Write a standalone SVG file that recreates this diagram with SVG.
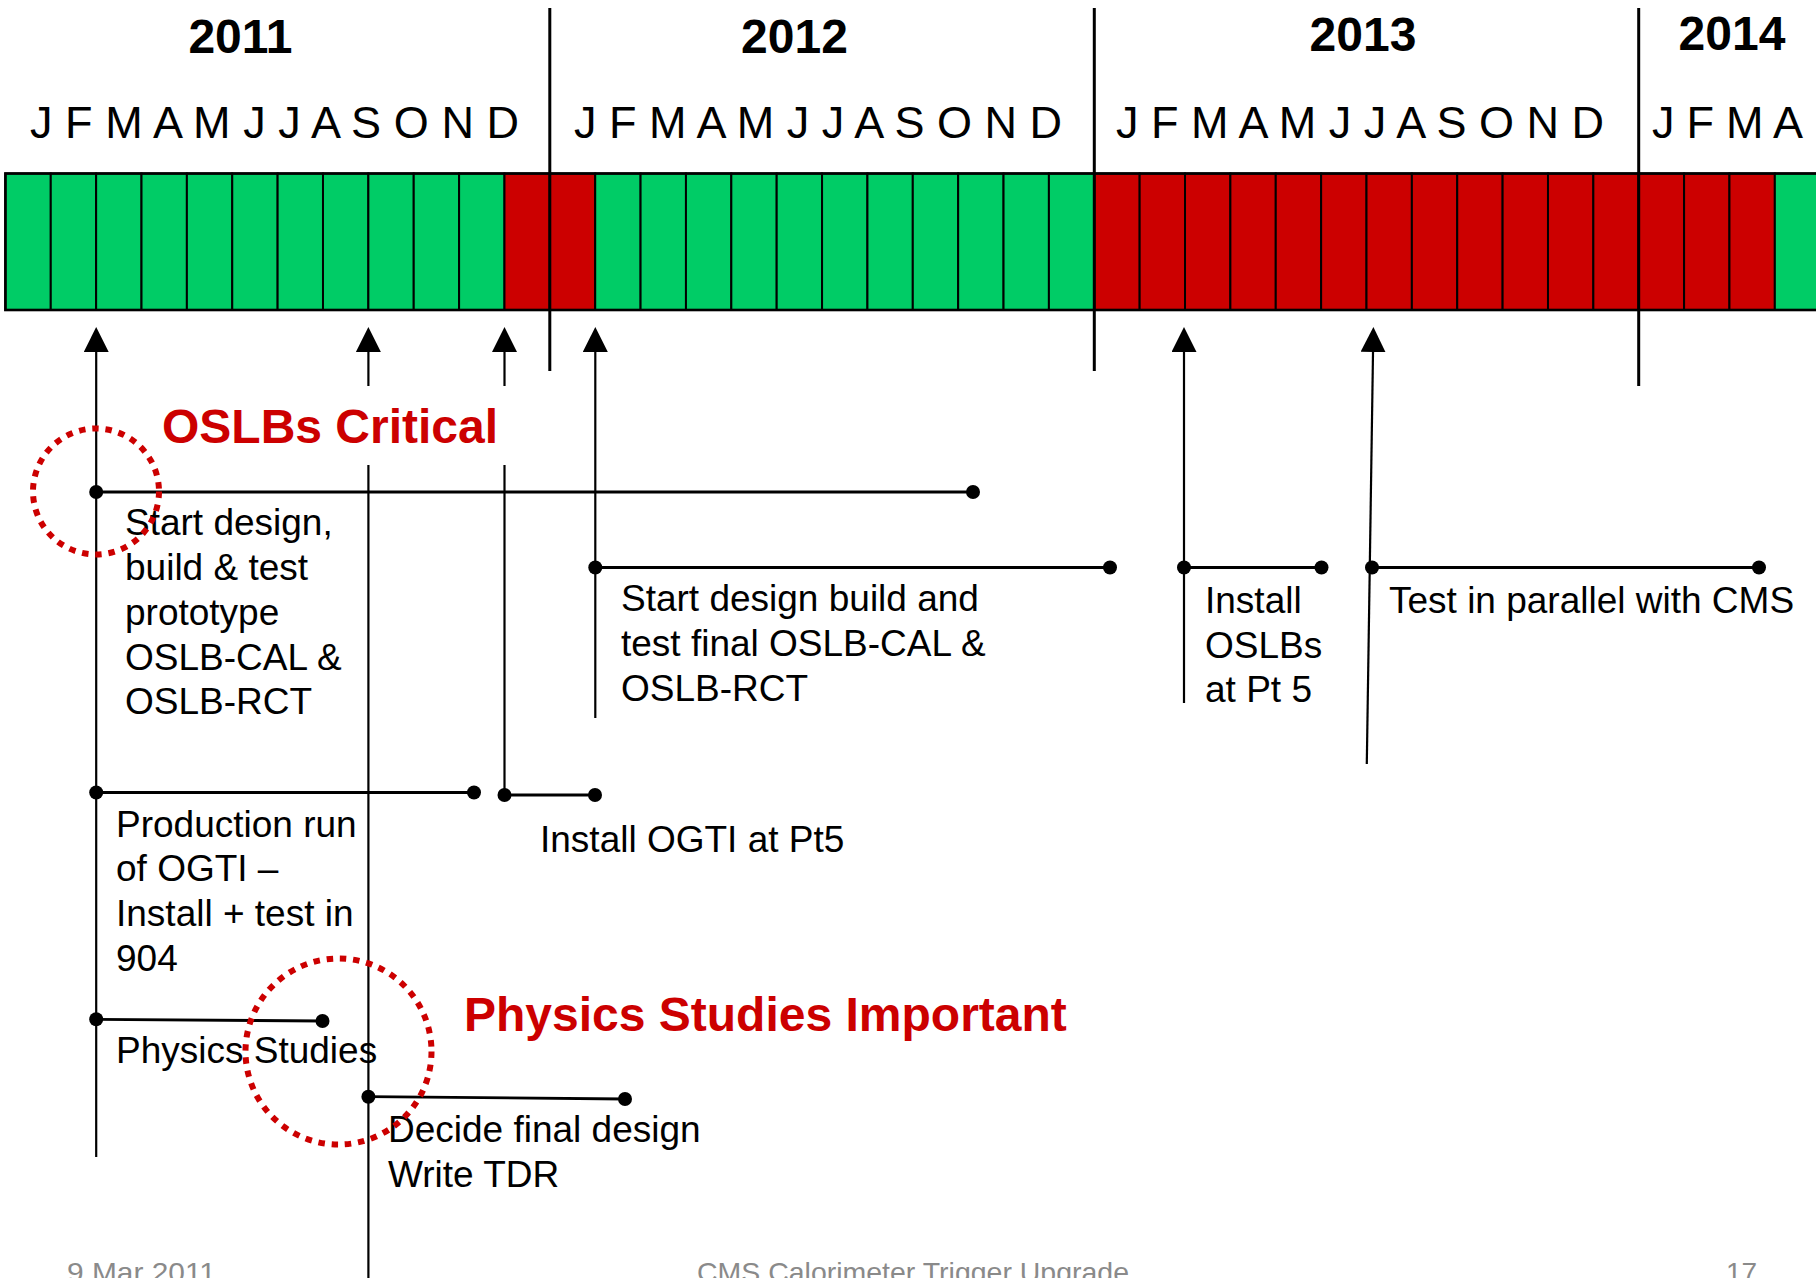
<svg xmlns="http://www.w3.org/2000/svg" width="1816" height="1278" viewBox="0 0 1816 1278">
  <style>
    .year { font-family: "Liberation Sans", Arial, sans-serif; font-weight: bold; font-size: 48px; fill: #000; text-anchor: middle; }
    .month { font-family: "Liberation Sans", Arial, sans-serif; font-size: 45px; fill: #000; }
    .lbl { font-family: "Liberation Sans", Arial, sans-serif; font-size: 37px; fill: #000; }
    .hot { font-family: "Liberation Sans", Arial, sans-serif; font-weight: bold; font-size: 48px; fill: #cc0000; }
    .foot { font-family: "Liberation Sans", Arial, sans-serif; font-size: 28px; fill: #8a8a8a; }
    .ok { fill: #00cc66; stroke: #000; stroke-width: 2; }
    .late { fill: #cc0000; stroke: #000; stroke-width: 2; }
    .sep { stroke: #000; stroke-width: 3; fill: none; }
    .vl { stroke: #000; stroke-width: 2.2; fill: none; }
    .hl { stroke: #000; stroke-width: 2.8; fill: none; }
    .dot { fill: #000; }
    .ring { fill: none; stroke: #cc0000; stroke-width: 6; stroke-dasharray: 6.5 6.8; }
  </style>
  <defs>
    <marker id="up" viewBox="0 0 25 25" refX="12" refY="12.5" markerWidth="25" markerHeight="25" markerUnits="userSpaceOnUse" orient="auto">
      <path d="M0,0 L25,12.5 L0,25 Z" fill="#000"/>
    </marker>
  </defs>
  <rect width="1816" height="1278" fill="#fff"/>

  <!-- year and month headings -->
  <g id="headings">
    <text class="year" x="240.5" y="53">2011</text>
    <text class="year" x="794.5" y="53">2012</text>
    <text class="year" x="1363" y="51">2013</text>
    <text class="year" x="1732" y="50">2014</text>
    <text class="month" x="30" y="138" textLength="489" lengthAdjust="spacing">J F M A M J J A S O N D</text>
    <text class="month" x="574" y="138" textLength="488" lengthAdjust="spacing">J F M A M J J A S O N D</text>
    <text class="month" x="1116" y="138" textLength="488" lengthAdjust="spacing">J F M A M J J A S O N D</text>
    <text class="month" x="1652" y="138" textLength="151" lengthAdjust="spacing">J F M A</text>
  </g>

  <!-- month cells: green = on track, red = critical period -->
  <g id="timeline">
    <rect class="ok" x="5.4" y="173.5" width="45.37" height="136.5"/>
    <rect class="ok" x="50.77" y="173.5" width="45.37" height="136.5"/>
    <rect class="ok" x="96.14" y="173.5" width="45.37" height="136.5"/>
    <rect class="ok" x="141.51" y="173.5" width="45.37" height="136.5"/>
    <rect class="ok" x="186.88" y="173.5" width="45.37" height="136.5"/>
    <rect class="ok" x="232.25" y="173.5" width="45.37" height="136.5"/>
    <rect class="ok" x="277.62" y="173.5" width="45.37" height="136.5"/>
    <rect class="ok" x="322.99" y="173.5" width="45.37" height="136.5"/>
    <rect class="ok" x="368.36" y="173.5" width="45.37" height="136.5"/>
    <rect class="ok" x="413.73" y="173.5" width="45.37" height="136.5"/>
    <rect class="ok" x="459.1" y="173.5" width="45.37" height="136.5"/>
    <rect class="late" x="504.47" y="173.5" width="45.37" height="136.5"/>
    <rect class="late" x="549.84" y="173.5" width="45.37" height="136.5"/>
    <rect class="ok" x="595.21" y="173.5" width="45.37" height="136.5"/>
    <rect class="ok" x="640.58" y="173.5" width="45.37" height="136.5"/>
    <rect class="ok" x="685.95" y="173.5" width="45.37" height="136.5"/>
    <rect class="ok" x="731.32" y="173.5" width="45.37" height="136.5"/>
    <rect class="ok" x="776.69" y="173.5" width="45.37" height="136.5"/>
    <rect class="ok" x="822.06" y="173.5" width="45.37" height="136.5"/>
    <rect class="ok" x="867.43" y="173.5" width="45.37" height="136.5"/>
    <rect class="ok" x="912.8" y="173.5" width="45.37" height="136.5"/>
    <rect class="ok" x="958.17" y="173.5" width="45.37" height="136.5"/>
    <rect class="ok" x="1003.54" y="173.5" width="45.37" height="136.5"/>
    <rect class="ok" x="1048.91" y="173.5" width="45.37" height="136.5"/>
    <rect class="late" x="1094.28" y="173.5" width="45.37" height="136.5"/>
    <rect class="late" x="1139.65" y="173.5" width="45.37" height="136.5"/>
    <rect class="late" x="1185.02" y="173.5" width="45.37" height="136.5"/>
    <rect class="late" x="1230.39" y="173.5" width="45.37" height="136.5"/>
    <rect class="late" x="1275.76" y="173.5" width="45.37" height="136.5"/>
    <rect class="late" x="1321.13" y="173.5" width="45.37" height="136.5"/>
    <rect class="late" x="1366.5" y="173.5" width="45.37" height="136.5"/>
    <rect class="late" x="1411.87" y="173.5" width="45.37" height="136.5"/>
    <rect class="late" x="1457.24" y="173.5" width="45.37" height="136.5"/>
    <rect class="late" x="1502.61" y="173.5" width="45.37" height="136.5"/>
    <rect class="late" x="1547.98" y="173.5" width="45.37" height="136.5"/>
    <rect class="late" x="1593.35" y="173.5" width="45.37" height="136.5"/>
    <rect class="late" x="1638.72" y="173.5" width="45.37" height="136.5"/>
    <rect class="late" x="1684.09" y="173.5" width="45.37" height="136.5"/>
    <rect class="late" x="1729.46" y="173.5" width="45.37" height="136.5"/>
    <rect class="ok" x="1774.83" y="173.5" width="60" height="136.5"/>
    <rect x="5.4" y="173.5" width="1830" height="136.5" fill="none" stroke="#000" stroke-width="2.6"/>
  </g>

  <!-- year separators -->
  <g id="year-lines">
    <line class="sep" x1="549.8" y1="8" x2="549.8" y2="371"/>
    <line class="sep" x1="1094.3" y1="8" x2="1094.3" y2="371"/>
    <line class="sep" x1="1638.7" y1="8" x2="1638.7" y2="386"/>
  </g>

  <!-- milestone arrows and drop lines -->
  <g id="connectors">
    <line class="vl" x1="96.2" y1="1157" x2="96.2" y2="340" marker-end="url(#up)"/>
    <line class="vl" x1="368.4" y1="386" x2="368.4" y2="340" marker-end="url(#up)"/>
    <line class="vl" x1="368.4" y1="465" x2="368.4" y2="1278"/>
    <line class="vl" x1="504.5" y1="386" x2="504.5" y2="340" marker-end="url(#up)"/>
    <line class="vl" x1="504.5" y1="465" x2="504.5" y2="795"/>
    <line class="vl" x1="595.3" y1="718" x2="595.3" y2="340" marker-end="url(#up)"/>
    <line class="vl" x1="1184" y1="703" x2="1184" y2="340" marker-end="url(#up)"/>
    <line class="vl" x1="1366.8" y1="764" x2="1373.2" y2="340" marker-end="url(#up)"/>
  </g>

  <!-- task bars -->
  <g id="task-prototype">
    <line class="hl" x1="96.2" y1="492" x2="973" y2="492"/>
    <circle class="dot" cx="96.2" cy="492" r="7"/>
    <circle class="dot" cx="973" cy="492" r="7"/>
    <text class="lbl" x="125" y="535">Start design,</text>
    <text class="lbl" x="125" y="580">build &amp; test</text>
    <text class="lbl" x="125" y="625">prototype</text>
    <text class="lbl" x="125" y="670">OSLB-CAL &amp;</text>
    <text class="lbl" x="125" y="714">OSLB-RCT</text>
  </g>

  <g id="task-final">
    <line class="hl" x1="595.3" y1="567.5" x2="1110" y2="567.5"/>
    <circle class="dot" cx="595.3" cy="567.5" r="7"/>
    <circle class="dot" cx="1110" cy="567.5" r="7"/>
    <text class="lbl" x="621" y="611">Start design build and</text>
    <text class="lbl" x="621" y="656">test final OSLB-CAL &amp;</text>
    <text class="lbl" x="621" y="701">OSLB-RCT</text>
  </g>

  <g id="task-install-oslb">
    <line class="hl" x1="1184" y1="567.5" x2="1321.5" y2="567.5"/>
    <circle class="dot" cx="1184" cy="567.5" r="7"/>
    <circle class="dot" cx="1321.5" cy="567.5" r="7"/>
    <text class="lbl" x="1205" y="613">Install</text>
    <text class="lbl" x="1205" y="658">OSLBs</text>
    <text class="lbl" x="1205" y="702">at Pt 5</text>
  </g>

  <g id="task-parallel">
    <line class="hl" x1="1372" y1="567.5" x2="1759" y2="567.5"/>
    <circle class="dot" cx="1372" cy="567.5" r="7"/>
    <circle class="dot" cx="1759" cy="567.5" r="7"/>
    <text class="lbl" x="1389" y="613">Test in parallel with CMS</text>
  </g>

  <g id="task-production">
    <line class="hl" x1="96.2" y1="792.5" x2="474" y2="792.5"/>
    <circle class="dot" cx="96.2" cy="792.5" r="7"/>
    <circle class="dot" cx="474" cy="792.5" r="7"/>
    <text class="lbl" x="116" y="837">Production run</text>
    <text class="lbl" x="116" y="881">of OGTI –</text>
    <text class="lbl" x="116" y="926">Install + test in</text>
    <text class="lbl" x="116" y="971">904</text>
  </g>

  <g id="task-install-ogti">
    <line class="hl" x1="504.5" y1="795" x2="595" y2="795"/>
    <circle class="dot" cx="504.5" cy="795" r="7"/>
    <circle class="dot" cx="595" cy="795" r="7"/>
    <text class="lbl" x="540" y="852">Install OGTI at Pt5</text>
  </g>

  <g id="task-physics">
    <line class="hl" x1="96.2" y1="1019.3" x2="322.5" y2="1021"/>
    <circle class="dot" cx="96.2" cy="1019.3" r="7"/>
    <circle class="dot" cx="322.5" cy="1021" r="7"/>
    <text class="lbl" x="116" y="1063">Physics Studies</text>
  </g>

  <g id="task-decide">
    <line class="hl" x1="368.4" y1="1096.7" x2="625" y2="1099"/>
    <circle class="dot" cx="368.4" cy="1096.7" r="7"/>
    <circle class="dot" cx="625" cy="1099" r="7"/>
    <text class="lbl" x="388" y="1142">Decide final design</text>
    <text class="lbl" x="388" y="1187">Write TDR</text>
  </g>

  <!-- highlights -->
  <g id="note-oslb">
    <circle class="ring" cx="96" cy="491.5" r="63"/>
    <text class="hot" x="162" y="443">OSLBs Critical</text>
  </g>
  <g id="note-physics">
    <circle class="ring" cx="338.5" cy="1051.5" r="93"/>
    <text class="hot" x="464" y="1031">Physics Studies Important</text>
  </g>

  <!-- slide footer -->
  <g id="footer">
    <text class="foot" x="67" y="1282" textLength="149" lengthAdjust="spacingAndGlyphs">9 Mar 2011</text>
    <text class="foot" x="697" y="1282" textLength="432" lengthAdjust="spacingAndGlyphs">CMS Calorimeter Trigger Upgrade</text>
    <text class="foot" x="1726" y="1282">17</text>
  </g>
</svg>
